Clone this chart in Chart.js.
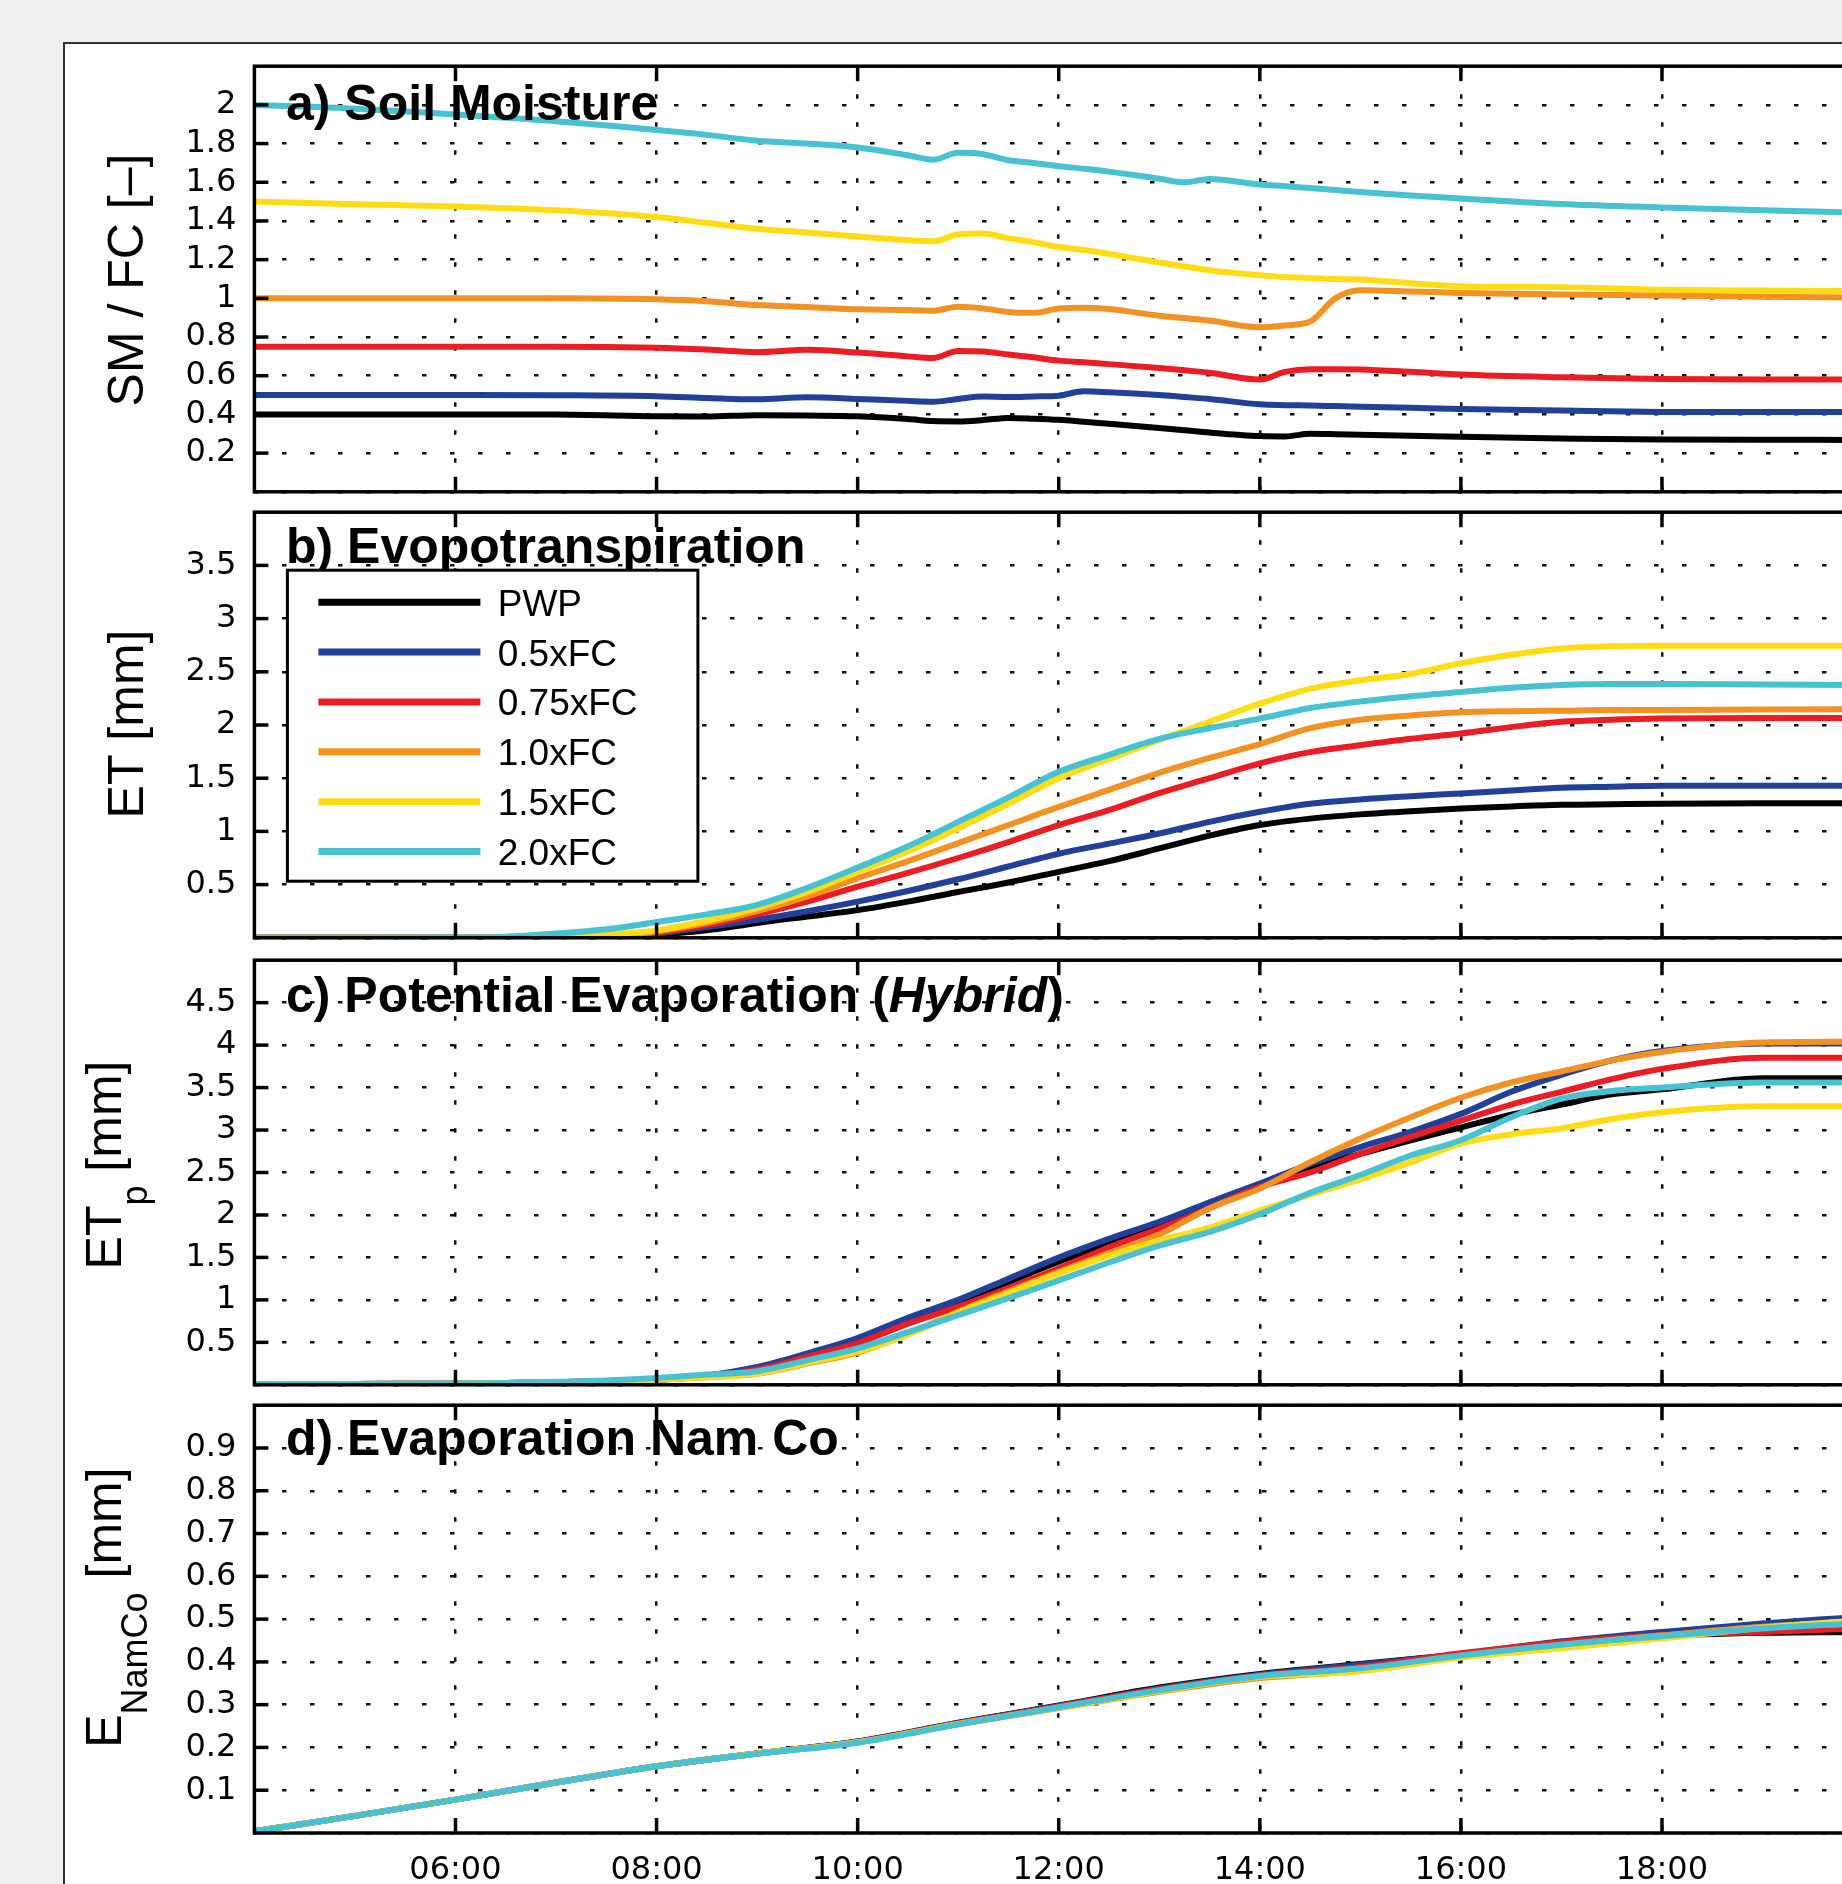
<!DOCTYPE html>
<html><head><meta charset="utf-8">
<script src="https://cdn.jsdelivr.net/npm/chart.js@4.4.1/dist/chart.umd.min.js"></script>
<style>
html,body{margin:0;padding:0;width:1842px;height:1884px;overflow:hidden;background:#f0f0f0;}
#frame{position:absolute;left:63px;top:42px;width:1900px;height:1900px;background:#fff;border:2px solid #333;box-sizing:border-box;}
canvas{position:absolute;left:0;}
</style></head><body>
<div id="frame"></div>
<canvas id="ca"></canvas>
<canvas id="cb"></canvas>
<canvas id="cc"></canvas>
<canvas id="cd"></canvas>
<script>
// ---------- data ----------
const seriesNames = ['PWP', '0.5xFC', '0.75xFC', '1.0xFC', '1.5xFC', '2.0xFC'];

// a) Soil moisture (SM/FC)
const timesA = [4, 5, 6, 7, 8, 8.5, 9, 9.5, 10, 10.5, 10.75, 11, 11.25, 11.5, 11.75, 12, 12.25, 12.5, 13, 13.25, 13.5, 14, 14.25, 14.5, 14.75, 15, 15.5, 16, 17, 18, 19, 19.9];
const smPWP  = [0.40, 0.40, 0.40, 0.40, 0.39, 0.389, 0.396, 0.394, 0.39, 0.376, 0.366, 0.364, 0.371, 0.382, 0.378, 0.372, 0.362, 0.352, 0.33, 0.318, 0.306, 0.288, 0.286, 0.30, 0.298, 0.295, 0.29, 0.284, 0.276, 0.27, 0.269, 0.268];
const sm05   = [0.50, 0.50, 0.50, 0.499, 0.494, 0.485, 0.478, 0.489, 0.48, 0.47, 0.466, 0.48, 0.492, 0.49, 0.493, 0.497, 0.52, 0.515, 0.50, 0.49, 0.48, 0.452, 0.448, 0.446, 0.443, 0.44, 0.434, 0.428, 0.42, 0.413, 0.412, 0.412];
const sm075  = [0.75, 0.75, 0.75, 0.75, 0.744, 0.735, 0.722, 0.734, 0.72, 0.70, 0.692, 0.728, 0.725, 0.71, 0.695, 0.678, 0.67, 0.66, 0.64, 0.628, 0.615, 0.58, 0.62, 0.634, 0.634, 0.632, 0.62, 0.606, 0.592, 0.583, 0.58, 0.58];
const sm10   = [1.0, 1.0, 1.0, 1.0, 0.995, 0.985, 0.965, 0.955, 0.943, 0.94, 0.936, 0.956, 0.948, 0.93, 0.925, 0.948, 0.952, 0.945, 0.91, 0.898, 0.885, 0.85, 0.86, 0.88, 1.0, 1.042, 1.036, 1.028, 1.02, 1.015, 1.008, 1.005];
const sm15   = [1.50, 1.487, 1.475, 1.455, 1.42, 1.39, 1.36, 1.34, 1.32, 1.30, 1.295, 1.33, 1.335, 1.31, 1.29, 1.265, 1.25, 1.23, 1.185, 1.165, 1.145, 1.12, 1.11, 1.105, 1.10, 1.098, 1.078, 1.063, 1.058, 1.045, 1.04, 1.037];
const sm20   = [2.0, 1.98, 1.95, 1.915, 1.87, 1.845, 1.815, 1.80, 1.78, 1.74, 1.717, 1.752, 1.745, 1.714, 1.70, 1.683, 1.67, 1.655, 1.618, 1.60, 1.617, 1.588, 1.58, 1.57, 1.56, 1.55, 1.532, 1.516, 1.488, 1.47, 1.455, 1.444];

// b) ET and c) ETp share these times
const timesB = [4, 5, 6, 6.5, 7, 7.5, 8, 8.5, 9, 9.5, 10, 10.5, 11, 11.5, 12, 12.5, 13, 13.5, 14, 14.5, 15, 15.5, 16, 16.5, 17, 17.5, 18, 19, 19.9];
const etPWP = [0, 0, 0, 0.002, 0.005, 0.012, 0.03, 0.07, 0.14, 0.2, 0.26, 0.34, 0.43, 0.52, 0.62, 0.72, 0.84, 0.96, 1.06, 1.12, 1.16, 1.19, 1.215, 1.235, 1.25, 1.255, 1.26, 1.265, 1.265];
const et05  = [0, 0, 0, 0.002, 0.006, 0.016, 0.04, 0.1, 0.17, 0.25, 0.34, 0.44, 0.55, 0.67, 0.79, 0.885, 0.98, 1.09, 1.184, 1.26, 1.3, 1.33, 1.357, 1.385, 1.41, 1.42, 1.43, 1.43, 1.43];
const et075 = [0, 0, 0, 0.003, 0.008, 0.02, 0.05, 0.12, 0.22, 0.34, 0.48, 0.61, 0.75, 0.9, 1.06, 1.2, 1.36, 1.5, 1.64, 1.745, 1.81, 1.87, 1.92, 1.98, 2.03, 2.05, 2.06, 2.065, 2.065];
const et10  = [0, 0, 0, 0.004, 0.01, 0.025, 0.06, 0.14, 0.25, 0.39, 0.56, 0.72, 0.89, 1.06, 1.23, 1.39, 1.55, 1.69, 1.82, 1.97, 2.05, 2.09, 2.12, 2.13, 2.135, 2.14, 2.14, 2.145, 2.147];
const et15  = [0, 0, 0, 0.005, 0.012, 0.03, 0.07, 0.16, 0.28, 0.43, 0.62, 0.81, 1.03, 1.26, 1.5, 1.68, 1.86, 2.03, 2.2, 2.34, 2.42, 2.48, 2.58, 2.66, 2.72, 2.74, 2.745, 2.745, 2.745];
const et20  = [0, 0, 0.002, 0.01, 0.04, 0.08, 0.148, 0.22, 0.31, 0.47, 0.66, 0.86, 1.09, 1.32, 1.56, 1.72, 1.87, 1.97, 2.06, 2.16, 2.22, 2.27, 2.31, 2.35, 2.375, 2.385, 2.385, 2.38, 2.375];

const etpPWP = [0.01, 0.01, 0.015, 0.02, 0.03, 0.045, 0.06, 0.1, 0.19, 0.35, 0.52, 0.76, 0.97, 1.21, 1.45, 1.66, 1.86, 2.1, 2.33, 2.55, 2.72, 2.88, 3.03, 3.18, 3.30, 3.42, 3.48, 3.61, 3.61];
const etp05  = [0.01, 0.01, 0.015, 0.02, 0.03, 0.045, 0.06, 0.11, 0.21, 0.37, 0.55, 0.79, 1.0, 1.25, 1.50, 1.72, 1.92, 2.15, 2.37, 2.6, 2.8, 2.98, 3.19, 3.45, 3.65, 3.82, 3.93, 4.02, 4.02];
const etp075 = [0.01, 0.01, 0.015, 0.02, 0.03, 0.045, 0.06, 0.1, 0.18, 0.33, 0.49, 0.72, 0.92, 1.14, 1.37, 1.62, 1.84, 2.08, 2.33, 2.5, 2.72, 2.92, 3.11, 3.3, 3.45, 3.6, 3.72, 3.85, 3.85];
const etp10  = [0.01, 0.01, 0.015, 0.02, 0.03, 0.045, 0.06, 0.09, 0.13, 0.25, 0.38, 0.6, 0.86, 1.1, 1.33, 1.55, 1.77, 2.08, 2.31, 2.62, 2.9, 3.15, 3.38, 3.56, 3.69, 3.82, 3.92, 4.03, 4.04];
const etp15  = [0.01, 0.01, 0.015, 0.02, 0.03, 0.045, 0.06, 0.09, 0.13, 0.26, 0.39, 0.59, 0.85, 1.08, 1.31, 1.52, 1.70, 1.85, 2.05, 2.24, 2.42, 2.62, 2.84, 2.95, 3.02, 3.13, 3.21, 3.28, 3.28];
const etp20  = [0.01, 0.01, 0.015, 0.02, 0.035, 0.05, 0.08, 0.12, 0.16, 0.29, 0.43, 0.62, 0.82, 1.02, 1.23, 1.44, 1.64, 1.8, 2.01, 2.26, 2.47, 2.7, 2.88, 3.15, 3.37, 3.46, 3.50, 3.56, 3.56];

// d) Evaporation Nam Co
const timesD = [4, 5, 6, 7, 8, 9, 10, 11, 12, 13, 14, 15, 16, 17, 18, 19, 19.9];
const eNcPWP = [0.004, 0.04, 0.078, 0.118, 0.156, 0.186, 0.214, 0.258, 0.298, 0.34, 0.372, 0.395, 0.418, 0.44, 0.46, 0.468, 0.47];
const eNc05  = [0.004, 0.04, 0.078, 0.118, 0.156, 0.186, 0.214, 0.257, 0.297, 0.338, 0.37, 0.394, 0.418, 0.448, 0.47, 0.49, 0.504];
const eNc075 = [0.004, 0.04, 0.078, 0.118, 0.156, 0.186, 0.213, 0.256, 0.296, 0.336, 0.368, 0.388, 0.42, 0.446, 0.462, 0.47, 0.478];
const eNc10  = [0.004, 0.04, 0.078, 0.118, 0.156, 0.186, 0.212, 0.254, 0.292, 0.33, 0.362, 0.38, 0.414, 0.44, 0.462, 0.482, 0.494];
const eNc15  = [0.004, 0.04, 0.078, 0.118, 0.156, 0.186, 0.212, 0.255, 0.293, 0.332, 0.365, 0.378, 0.41, 0.432, 0.455, 0.48, 0.496];
const eNc20  = [0.004, 0.04, 0.078, 0.118, 0.156, 0.185, 0.211, 0.254, 0.294, 0.334, 0.367, 0.385, 0.415, 0.44, 0.46, 0.478, 0.49];

// ---------- styling / layout ----------
const seriesColors = ['#000000', '#21409a', '#ec1c24', '#f39123', '#ffdc14', '#47c2d2'];
const FONT = '"Liberation Sans", Arial, Helvetica, sans-serif';
const TICKFONT = '"DejaVu Sans", sans-serif';

const panels = [
  { id: 'ca', top: 66, bottom: 492, ymax: 2.2, step: 0.2, times: timesA,
    data: [smPWP, sm05, sm075, sm10, sm15, sm20],
    title: [{ t: 'a) Soil Moisture', f: 'bold' }], titleDy: 54,
    ylabel: [{ t: 'SM / FC [–]', s: 50, dy: 0 }], labelX: 143, labelOff: 1 },
  { id: 'cb', top: 512, bottom: 938, ymax: 4, step: 0.5, times: timesB,
    data: [etPWP, et05, et075, et10, et15, et20], legend: true,
    title: [{ t: 'b) Evopotranspiration', f: 'bold' }], titleDy: 51,
    ylabel: [{ t: 'ET [mm]', s: 50, dy: 0 }], labelX: 143, labelOff: -1 },
  { id: 'cc', top: 960, bottom: 1385, ymax: 5, step: 0.5, times: timesB,
    data: [etpPWP, etp05, etp075, etp10, etp15, etp20],
    title: [{ t: 'c) Potential Evaporation (', f: 'bold' }, { t: 'Hybrid', f: 'italic bold' }, { t: ')', f: 'bold' }], titleDy: 52,
    ylabel: [{ t: 'ET', s: 50, dy: 0 }, { t: 'p', s: 36, dy: 26 }, { t: ' [mm]', s: 50, dy: 0 }], labelX: 121, labelOff: -7.5 },
  { id: 'cd', top: 1405, bottom: 1833, ymax: 1, step: 0.1, times: timesD,
    data: [eNcPWP, eNc05, eNc075, eNc10, eNc15, eNc20],
    title: [{ t: 'd) Evaporation Nam Co', f: 'bold' }], titleDy: 50,
    ylabel: [{ t: 'E', s: 50, dy: 0 }, { t: 'NamCo', s: 36, dy: 26 }, { t: ' [mm]', s: 50, dy: 0 }], labelX: 121, labelOff: -11.5 }
];
const panelById = {};
panels.forEach(p => panelById[p.id] = p);

function line(ctx, x1, y1, x2, y2) { ctx.beginPath(); ctx.moveTo(x1, y1); ctx.lineTo(x2, y2); ctx.stroke(); }

const deco = {
  id: 'deco',
  afterDatasetsDraw(chart) {
    const p = panelById[chart.canvas.id];
    const ctx = chart.ctx, a = chart.chartArea, xs = chart.scales.x, ys = chart.scales.y;
    ctx.save();
    // panel title
    let tx = a.left + 31.6;
    const ty = a.top + p.titleDy;
    ctx.fillStyle = '#000'; ctx.textBaseline = 'alphabetic'; ctx.textAlign = 'left';
    p.title.forEach(seg => {
      ctx.font = seg.f + ' 50px ' + FONT;
      ctx.fillText(seg.t, tx, ty);
      tx += ctx.measureText(seg.t).width;
    });
    // legend
    if (p.legend) {
      const lx = a.left + 33, ly = a.top + 58, lw = 410.5, lh = 311;
      ctx.fillStyle = '#fff'; ctx.fillRect(lx, ly, lw, lh);
      ctx.lineWidth = 3; ctx.strokeStyle = '#000'; ctx.strokeRect(lx, ly, lw, lh);
      ctx.font = '37px ' + FONT;
      chart.data.datasets.forEach((ds, i) => {
        const yy = a.top + 90 + i * 49.86;
        ctx.strokeStyle = ds.borderColor; ctx.lineWidth = 7; ctx.lineCap = 'butt';
        line(ctx, a.left + 64, yy, a.left + 226, yy);
        ctx.fillStyle = '#000';
        ctx.fillText(ds.label, a.left + 243.3, yy + 13.5);
      });
    }
    // frame
    ctx.strokeStyle = '#000'; ctx.lineWidth = 3.5;
    ctx.strokeRect(a.left, a.top, a.right - a.left, a.bottom - a.top);
    // inward ticks
    ys.ticks.forEach(t => {
      if (t.value > 1e-9 && t.value < p.ymax - 1e-9) {
        const y = ys.getPixelForValue(t.value);
        line(ctx, a.left, y, a.left + 14, y);
      }
    });
    xs.ticks.forEach(t => {
      if (t.value > 4) {
        const x = xs.getPixelForValue(t.value);
        line(ctx, x, a.top, x, a.top + 15);
        line(ctx, x, a.bottom - 15, x, a.bottom);
      }
    });
    // rotated y label
    let total = 0;
    p.ylabel.forEach(seg => { ctx.font = seg.s + 'px ' + FONT; total += ctx.measureText(seg.t).width; });
    ctx.translate(p.labelX, (a.top + a.bottom) / 2 + p.labelOff);
    ctx.rotate(-Math.PI / 2);
    let lxp = -total / 2;
    ctx.fillStyle = '#000';
    p.ylabel.forEach(seg => {
      ctx.font = seg.s + 'px ' + FONT;
      ctx.fillText(seg.t, lxp, seg.dy);
      lxp += ctx.measureText(seg.t).width;
    });
    ctx.restore();
  }
};

const W = 1853;
function build(p, isLast, H) {
  const cv = document.getElementById(p.id);
  cv.width = W; cv.height = H;
  cv.style.width = W + 'px'; cv.style.height = H + 'px';
  const ymax = p.ymax;
  const xAxisH = isLast ? 80 : 0;
  return new Chart(cv, {
    type: 'line',
    data: {
      datasets: seriesNames.map((n, i) => ({
        label: n,
        data: p.times.map((t, k) => ({ x: t, y: p.data[i][k] })),
        borderColor: seriesColors[i],
        backgroundColor: seriesColors[i],
        borderWidth: 6,
        pointRadius: 0,
        cubicInterpolationMode: 'monotone',
        fill: false,
        order: seriesNames.length - i
      }))
    },
    options: {
      responsive: false, maintainAspectRatio: false, animation: false, devicePixelRatio: 1,
      layout: { padding: { top: 4, bottom: isLast ? 0 : 4, left: 0, right: 0 } },
      plugins: { legend: { display: false }, tooltip: { enabled: false } },
      scales: {
        x: {
          type: 'linear', min: 4, max: 19.9, position: 'bottom',
          ticks: {
            display: isLast, stepSize: 2, includeBounds: false, autoSkip: false, maxRotation: 0,
            padding: 18, color: '#000', font: { family: TICKFONT, size: 32 },
            callback: (v) => v === 4 ? '' : (v < 10 ? '0' : '') + v + ':00'
          },
          grid: { color: '#111', lineWidth: 2.5, drawTicks: false },
          border: { display: false, dash: [4.5, 23.5] },
          afterFit: (s) => { s.height = xAxisH; }
        },
        y: {
          min: 0, max: ymax,
          ticks: {
            stepSize: p.step, autoSkip: false, padding: 18, color: '#000',
            font: { family: TICKFONT, size: 32 },
            callback: (v) => (v < 1e-9 || Math.abs(v - ymax) < 1e-6) ? '' : String(Math.round(v * 100) / 100)
          },
          grid: { color: '#111', lineWidth: 2.5, drawTicks: false },
          border: { display: false, dash: [4.5, 23.5] },
          afterFit: (s) => { s.width = 254.4; }
        }
      }
    },
    plugins: [deco]
  });
}

panels.forEach((p, idx) => {
  const isLast = idx === panels.length - 1;
  const want = p.bottom - p.top;
  let H = want + 60 + (isLast ? 80 : 0);
  let chart = build(p, isLast, H);
  const got = chart.chartArea.bottom - chart.chartArea.top;
  if (Math.abs(got - want) > 0.5) {
    chart.destroy();
    H = Math.round(H + (want - got));
    chart = build(p, isLast, H);
  }
  document.getElementById(p.id).style.top = (p.top - chart.chartArea.top) + 'px';
});
</script>
</body></html>
